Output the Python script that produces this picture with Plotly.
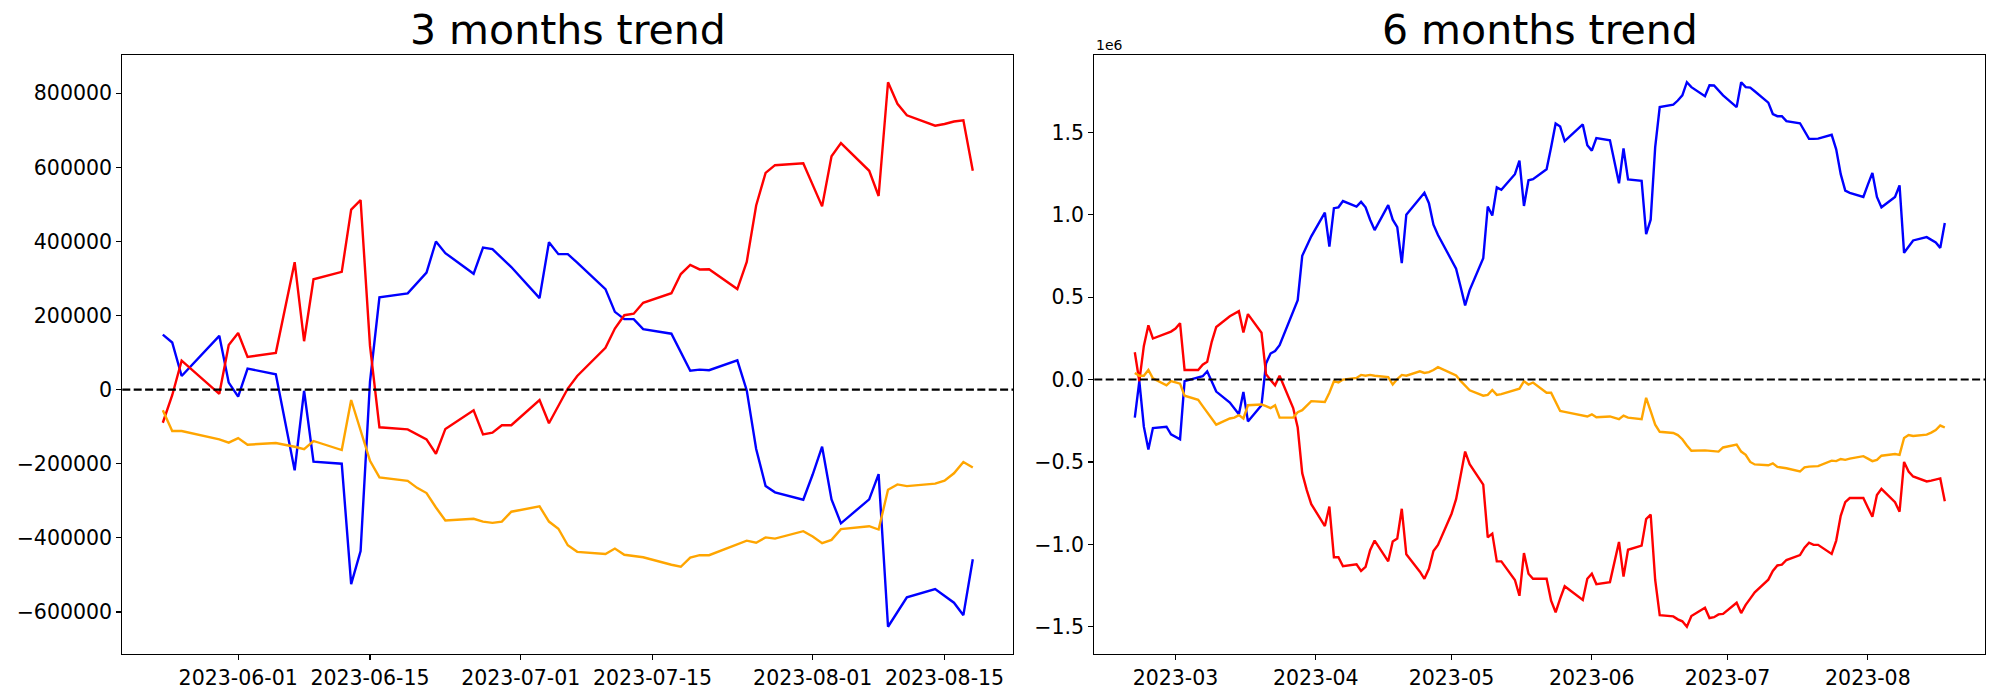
import plotly.graph_objects as go
import pandas as pd

# ---------------- 3 months data ----------------
may_3m = [24, 25, 26, 30, 31]
jun_3m = [1, 2, 5, 7, 8, 9, 12, 13, 14, 15, 16, 19, 20, 21, 22, 23, 26, 27, 28, 29, 30]
jul_3m = [3, 4, 5, 6, 7, 10, 11, 12, 13, 14, 17, 18, 19, 20, 21, 24, 25, 26, 27, 28, 31]
aug_3m = [1, 2, 3, 4, 7, 8, 9, 10, 11, 14, 15, 16, 17, 18]

blue_3m = [148500, 127300, 36900, 145200, 19000,
           -19000, 57000, 41300, -217800, -3000, -194300,
           -199900, -524800, -435500, 22000, 249000,
           260000, 288000, 316000, 399800, 368400,
           312700, 383700, 379200, 355000, 331000,
           247000, 398000, 365700, 365700, 343000,
           271300, 210000, 190500, 190500, 163500,
           151000, 99000, 51200, 54000, 52500,
           79000, -2000, -160000, -259800, -277000,
           -297000,
           -229000, -154000, -296000, -360700,
           -296000, -227800, -639900, -600800, -560600,
           -538200, -556000, -575000, -608600, -457800]

red_3m = [-89300, -15000, 78200, -11200, 120600,
          153000, 88200, 99400, 344000, 130700, 298000,
          318000, 485800, 511400, 118000, -101600,
          -107200, -120000, -134000, -173000, -106000,
          -55800, -120600, -116000, -96000, -96000,
          -27900, -90500, -45000, 3000, 37000,
          113000, 165000, 201000, 205000, 234600,
          260300, 312000, 336500, 324500, 325000,
          271400, 345000, 497000, 585000, 605800,
          610800,
          552800, 494700, 629800, 665500,
          590700, 522600, 829700, 771600, 740400,
          712500, 717000, 723600, 727000, 590700]

orange_3m = [-55800, -111700, -111700, -134000, -143000,
             -130700, -148500, -144000, -154000, -160800, -138500,
             -163000, -27900, -109000, -192000, -236700,
             -246000, -265000, -279000, -318000, -352900,
             -348400, -356000, -359600, -356000, -329400,
             -314900, -356000, -375200, -419900, -437700,
             -443300, -428800, -445600, -449000, -452300,
             -472400, -478000, -453400, -446700, -446700,
             -416500, -407600, -413200, -398700, -402000,
             -381900,
             -396400, -414300, -405400, -376300,
             -368500, -377400, -270200, -255700, -260200,
             -253500, -245700, -225600, -195400, -209900]

# ---------------- 6 months data (values in millions) ----------------
feb_6m = [20, 21, 22, 23, 24, 27, 28]
mar_6m = [1, 2, 3, 6, 7, 8, 9, 10, 13, 14, 15, 16, 17, 20, 21, 22, 23, 24, 27, 28, 29, 30, 31]
apr_6m = [3, 4, 5, 6, 7, 10, 11, 12, 13, 14, 17, 18, 19, 20, 21, 24, 25, 26, 27, 28]
may_6m = [1, 2, 3, 4, 5, 8, 9, 10, 11, 12, 15, 16, 17, 18, 19, 22, 23, 24, 25, 26, 30, 31]
jun_6m = [1, 2, 5, 7, 8, 9, 12, 13, 14, 15, 16, 19, 20, 21, 22, 23, 26, 27, 28, 29, 30]
jul_6m = [3, 4, 5, 6, 7, 10, 11, 12, 13, 14, 17, 18, 19, 20, 21, 24, 25, 26, 27, 28, 31]
aug_6m = [1, 2, 3, 4, 7, 8, 9, 10, 11, 14, 15, 16, 17, 18]

blue_6m = [-0.231, -0.01, -0.286, -0.425, -0.294, -0.286, -0.332,
           -0.347, -0.362, -0.01, 0.01, 0.02, 0.05, -0.01, -0.073, -0.14, -0.175, -0.211, -0.075,
           -0.254, -0.156, 0.098, 0.158, 0.173, 0.209, 0.417, 0.482, 0.751, 0.807, 0.869,
           1.013, 0.807, 1.040, 1.045, 1.083, 1.050, 1.078, 1.045, 0.970, 0.907, 1.058, 0.970,
           0.925, 0.706, 1.0, 1.095, 1.133, 1.070, 0.940, 0.877,
           0.719, 0.673, 0.563, 0.450, 0.543, 0.736, 1.050, 0.995, 1.166, 1.151, 1.246, 1.329,
           1.053, 1.209, 1.216, 1.276, 1.41, 1.553, 1.535, 1.447, 1.548, 1.422,
           1.389, 1.465, 1.452, 1.191, 1.402, 1.214, 1.206, 0.882, 0.970, 1.41, 1.653, 1.668,
           1.693, 1.724, 1.804, 1.774, 1.719, 1.786, 1.784, 1.754, 1.724,
           1.653, 1.804, 1.774, 1.771, 1.749, 1.68, 1.611, 1.598, 1.598, 1.568, 1.555, 1.505,
           1.460, 1.460, 1.462, 1.485, 1.397, 1.246, 1.146, 1.133, 1.108,
           1.183, 1.254, 1.108, 1.045, 1.108, 1.178, 0.769, 0.807, 0.844, 0.864, 0.849, 0.832,
           0.799, 0.95]

red_6m = [0.166, -0.01, 0.204, 0.329, 0.249, 0.279, 0.291,
          0.309, 0.342, 0.058, 0.058, 0.09, 0.108, 0.229, 0.319, 0.384, 0.4, 0.415, 0.286,
          0.397, 0.284, 0.033, -0.003, -0.035, 0.023, -0.173, -0.291, -0.568, -0.671, -0.756,
          -0.889, -0.771, -1.078, -1.078, -1.133, -1.121, -1.161, -1.136, -1.035, -0.977,
          -1.103, -0.982, -0.965, -0.784, -1.060, -1.166, -1.209, -1.148, -1.040, -1.003,
          -0.814, -0.726, -0.583, -0.437, -0.513, -0.638, -0.957, -0.935, -1.103, -1.103,
          -1.216, -1.312, -1.053, -1.178, -1.209, -1.209, -1.342, -1.412, -1.329, -1.254,
          -1.337, -1.209,
          -1.178, -1.241, -1.229, -0.985, -1.196, -1.033, -1.008, -0.847, -0.819, -1.216,
          -1.43, -1.437, -1.455, -1.467, -1.5, -1.435, -1.384, -1.447, -1.442, -1.425, -1.422,
          -1.354, -1.417, -1.367, -1.329, -1.291, -1.214, -1.161, -1.128, -1.123, -1.095,
          -1.065, -1.020, -0.990, -1.003, -1.003, -1.058, -0.977, -0.827, -0.744, -0.719, -0.719,
          -0.776, -0.832, -0.701, -0.663, -0.744, -0.802, -0.5, -0.558, -0.588, -0.618,
          -0.613, -0.606, -0.6, -0.739]

orange_6m = [0.04, 0.023, 0.023, 0.058, 0.008, -0.035, -0.01,
             -0.018, -0.025, -0.098, -0.123, -0.161, -0.198, -0.236, -0.274, -0.236, -0.231,
             -0.216, -0.236, -0.156, -0.151, -0.161, -0.173, -0.156, -0.231, -0.231, -0.198,
             -0.186, -0.161, -0.131,
             -0.136, -0.080, -0.01, -0.018, 0.0, 0.01, 0.028, 0.023, 0.028, 0.023, 0.015,
             -0.03, 0.003, 0.028, 0.023, 0.05, 0.04, 0.045, 0.058, 0.075,
             0.038, 0.025, -0.008, -0.035, -0.065, -0.098, -0.093, -0.063, -0.093, -0.088,
             -0.065, -0.055, -0.01, -0.03, -0.018, -0.08, -0.08, -0.136, -0.191, -0.196,
             -0.216, -0.224,
             -0.211, -0.229, -0.224, -0.241, -0.219, -0.231, -0.241, -0.111, -0.191, -0.274,
             -0.317, -0.324, -0.337, -0.362, -0.4, -0.432, -0.43, -0.432, -0.437, -0.437, -0.412,
             -0.394, -0.437, -0.457, -0.5, -0.515, -0.52, -0.508, -0.53, -0.533, -0.538,
             -0.558, -0.533, -0.528, -0.528, -0.525, -0.492, -0.495, -0.482, -0.487, -0.48,
             -0.465,
             -0.48, -0.495, -0.487, -0.462, -0.452, -0.457, -0.354, -0.337, -0.342, -0.334,
             -0.322, -0.307, -0.279, -0.291]

tick_dates_3m = ["2023-06-01", "2023-06-15", "2023-07-01", "2023-07-15", "2023-08-01", "2023-08-15"]
tick_dates_6m = ["2023-03-01", "2023-04-01", "2023-05-01", "2023-06-01", "2023-07-01", "2023-08-01"]
tick_text_6m = ["2023-03", "2023-04", "2023-05", "2023-06", "2023-07", "2023-08"]
yticks_3m = [-600000, -400000, -200000, 0, 200000, 400000, 600000, 800000]
yticks_6m = [-1.5, -1.0, -0.5, 0.0, 0.5, 1.0, 1.5]


def mk(month, days):
    return [f"2023-{month}-{d:02d}" for d in days]


dates_3m = mk("05", may_3m) + mk("06", jun_3m) + mk("07", jul_3m) + mk("08", aug_3m)
dates_6m = (mk("02", feb_6m) + mk("03", mar_6m) + mk("04", apr_6m) + mk("05", may_6m)
            + mk("06", jun_6m) + mk("07", jul_6m) + mk("08", aug_6m))

for arr in (blue_3m, red_3m, orange_3m):
    assert len(arr) == len(dates_3m), (len(arr), len(dates_3m))
for arr in (blue_6m, red_6m, orange_6m):
    assert len(arr) == len(dates_6m), (len(arr), len(dates_6m))

scale6 = 1e6
blue6 = [v * scale6 for v in blue_6m]
red6 = [v * scale6 for v in red_6m]
orange6 = [v * scale6 for v in orange_6m]

# the page's body margin is removed (post_script below), so figure px == page px
W, H = 2000, 700
AX1 = (122.3, 1013.3)
AX2 = (1094.3, 1985.3)
TOP, BOT = 55.0, 654.0
ydom = [(H - BOT) / H, (H - TOP) / H]


def xrange_of(dates):
    d = pd.to_datetime(pd.Series(dates))
    lo, hi = d.min(), d.max()
    m = (hi - lo) * 0.05
    return [(lo - m).isoformat(), (hi + m).isoformat()]


def yrange_of(*arrs):
    lo = min(min(a) for a in arrs)
    hi = max(max(a) for a in arrs)
    m = (hi - lo) * 0.05
    return [lo - m, hi + m]


def minus(s):
    return s.replace("-", "\u2212")


LW = 2.4
FONT = "DejaVu Sans"
fig = go.Figure()

for ys, col in ((blue_3m, "blue"), (red_3m, "red"), (orange_3m, "orange")):
    fig.add_trace(go.Scatter(x=dates_3m, y=ys, mode="lines", line=dict(color=col, width=LW),
                             xaxis="x", yaxis="y", showlegend=False))
for ys, col in ((blue6, "blue"), (red6, "red"), (orange6, "orange")):
    fig.add_trace(go.Scatter(x=dates_6m, y=ys, mode="lines", line=dict(color=col, width=LW),
                             xaxis="x2", yaxis="y2", showlegend=False))

axis_common = dict(showline=True, mirror=True, linecolor="black", linewidth=1.1,
                   ticks="outside", ticklen=5, tickwidth=1.1, tickcolor="black",
                   showgrid=False, zeroline=False,
                   tickfont=dict(family=FONT, size=20.5, color="black"))

fig.update_layout(
    width=W, height=H,
    margin=dict(l=0, r=0, t=0, b=0),
    paper_bgcolor="white", plot_bgcolor="white",
    showlegend=False,
    xaxis=dict(domain=[AX1[0] / W, AX1[1] / W], anchor="y", type="date",
               range=xrange_of(dates_3m), tickmode="array", tickvals=tick_dates_3m,
               ticktext=tick_dates_3m, **axis_common),
    yaxis=dict(domain=ydom, anchor="x", range=yrange_of(blue_3m, red_3m, orange_3m),
               tickmode="array", tickvals=yticks_3m,
               ticktext=[minus(str(v)) for v in yticks_3m], **axis_common),
    xaxis2=dict(domain=[AX2[0] / W, AX2[1] / W], anchor="y2", type="date",
                range=xrange_of(dates_6m), tickmode="array", tickvals=tick_dates_6m,
                ticktext=tick_text_6m, **axis_common),
    yaxis2=dict(domain=ydom, anchor="x2", range=yrange_of(blue6, red6, orange6),
                tickmode="array", tickvals=[v * scale6 for v in yticks_6m],
                ticktext=[minus(f"{v:.1f}") for v in yticks_6m], **axis_common),
)

for xr, yr in (("x domain", "y"), ("x2 domain", "y2")):
    fig.add_shape(type="line", xref=xr, yref=yr, x0=0, x1=1, y0=0, y1=0,
                  line=dict(color="black", width=2.1, dash="8px,3.4px"), layer="above")

for label, ax in (("3 months trend", AX1), ("6 months trend", AX2)):
    fig.add_annotation(text=label, xref="paper", yref="paper",
                       x=(ax[0] + ax[1]) / 2 / W, y=ydom[1], xanchor="center", yanchor="bottom",
                       yshift=-1, showarrow=False, font=dict(family=FONT, size=41, color="black"))
fig.add_annotation(text="1e6", xref="paper", yref="paper",
                   x=AX2[0] / W, y=ydom[1], xanchor="left", yanchor="bottom",
                   showarrow=False, font=dict(family=FONT, size=14, color="black"))

fig.write_html("out.html",
               config={"displayModeBar": False, "staticPlot": True},
               post_script="document.body.style.margin='0';document.body.style.overflow='hidden';")
